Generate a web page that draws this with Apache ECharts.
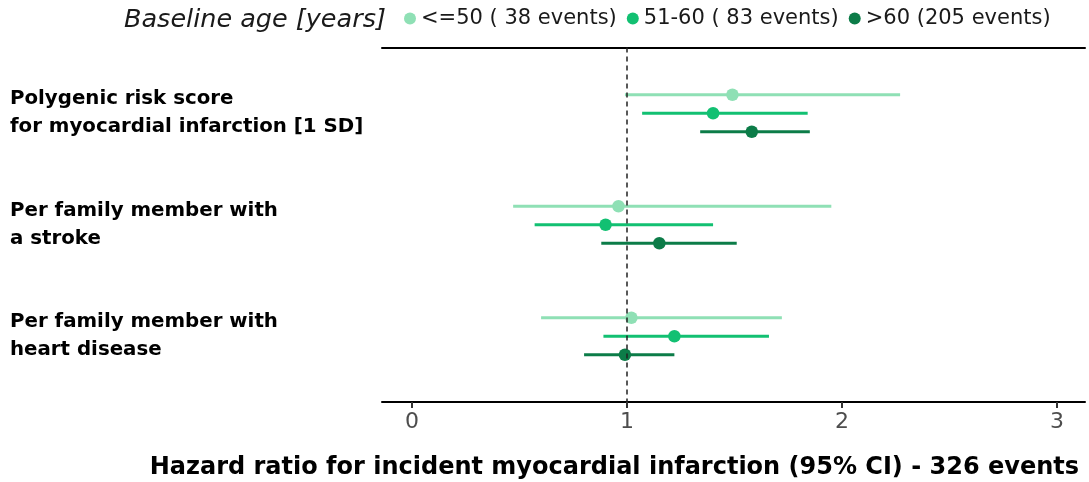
<!DOCTYPE html>
<html>
<head>
<meta charset="utf-8">
<script src="https://cdn.jsdelivr.net/npm/echarts@6/dist/echarts.min.js"></script>
<style>
  html, body { margin: 0; padding: 0; background: #fff; }
  #chart { width: 1089px; height: 482px; }
</style>
</head>
<body>
<div id="chart"></div>
<script>
// row labels (top to bottom)
const categories = [
  "Polygenic risk score\nfor myocardial infarction [1 SD]",
  "Per family member with\na stroke",
  "Per family member with\nheart disease"
];
const ageGroups = ["<=50 ( 38 events)", "51-60 ( 83 events)", ">60 (205 events)"];
const xTicks = [0, 1, 2, 3];

// hazard ratios and 95% CI, one value per row
const hrLe50 = [1.49, 0.96, 1.02];
const loLe50 = [0.99, 0.47, 0.60];
const hiLe50 = [2.27, 1.95, 1.72];

const hr5160 = [1.40, 0.90, 1.22];
const lo5160 = [1.07, 0.57, 0.89];
const hi5160 = [1.84, 1.40, 1.66];

const hrGt60 = [1.58, 1.15, 0.99];
const loGt60 = [1.34, 0.88, 0.80];
const hiGt60 = [1.85, 1.51, 1.22];

const colors = ["#8fe0b5", "#12c072", "#0c7c48"];
const offsets = [-0.166, 0, 0.166];
const font = "DejaVu Sans";

const groups = [
  { hr: hrLe50, lo: loLe50, hi: hiLe50 },
  { hr: hr5160, lo: lo5160, hi: hi5160 },
  { hr: hrGt60, lo: loGt60, hi: hiGt60 }
];

const series = [];
groups.forEach((g, i) => {
  // CI segments
  series.push({
    name: "ci" + i,
    type: "custom",
    silent: true,
    z: 2,
    data: categories.map((c, k) => [k + offsets[i], g.lo[k], g.hi[k]]),
    encode: { y: 0, x: [1, 2] },
    renderItem: function (params, api) {
      const y = api.value(0);
      const p1 = api.coord([api.value(1), y]);
      const p2 = api.coord([api.value(2), y]);
      return {
        type: "line",
        shape: { x1: p1[0], y1: p1[1], x2: p2[0], y2: p2[1] },
        style: { stroke: colors[i], lineWidth: 3 }
      };
    }
  });
  // point estimates
  series.push({
    name: ageGroups[i],
    type: "scatter",
    symbol: "circle",
    symbolSize: 12.5,
    z: 3,
    itemStyle: { color: colors[i], opacity: 1 },
    data: categories.map((c, k) => [g.hr[k], k + offsets[i]]),
    markLine: i === 0 ? {
      silent: true,
      symbol: "none",
      label: { show: false },
      lineStyle: { color: "#222", type: [5, 4], width: 1.5 },
      data: [{ xAxis: 1 }]
    } : undefined
  });
});

const chart = echarts.init(document.getElementById("chart"));
chart.setOption({
  animation: false,
  backgroundColor: "#fff",
  title: [
    {
      text: "Baseline age [years]",
      left: 119,
      top: 2,
      textStyle: { fontFamily: font, fontStyle: "italic", fontWeight: "normal", fontSize: 25.5, color: "#1a1a1a" }
    },
    {
      text: "Hazard ratio for incident myocardial infarction (95% CI) - 326 events",
      right: 5,
      top: 451,
      textStyle: { fontFamily: font, fontWeight: "bold", fontSize: 24, color: "#000" }
    }
  ],
  legend: {
    data: ageGroups.map(n => ({ name: n, icon: "circle" })),
    left: 399,
    top: 3,
    itemWidth: 12,
    itemHeight: 12,
    itemGap: 10,
    textStyle: { fontFamily: font, fontSize: 21, color: "#1a1a1a" }
  },
  grid: { left: 382, right: 4, top: 47.5, bottom: 80 },
  xAxis: [
    {
      type: "value",
      min: -0.14,
      max: 3.13,
      splitLine: { show: false },
      axisLine: { show: true, onZero: false, lineStyle: { color: "#000", width: 2 } },
      axisTick: { show: true, customValues: xTicks, length: 6, lineStyle: { color: "#333", width: 2 } },
      axisLabel: { customValues: xTicks, margin: 9, fontFamily: font, fontSize: 22, color: "#4d4d4d" }
    },
    {
      type: "value",
      position: "top",
      min: -0.14,
      max: 3.13,
      splitLine: { show: false },
      axisLine: { show: true, onZero: false, lineStyle: { color: "#000", width: 2 } },
      axisTick: { show: false },
      axisLabel: { show: false }
    }
  ],
  yAxis: {
    type: "value",
    inverse: true,
    min: -0.59,
    max: 2.59,
    splitLine: { show: false },
    axisLine: { show: false },
    axisTick: { show: false },
    axisLabel: {
      customValues: [0, 1, 2],
      formatter: v => categories[Math.round(v)],
      align: "left",
      margin: 372,
      fontFamily: font,
      fontWeight: "bold",
      fontSize: 19.8,
      lineHeight: 28,
      color: "#000"
    }
  },
  series: series
});
</script>
</body>
</html>
